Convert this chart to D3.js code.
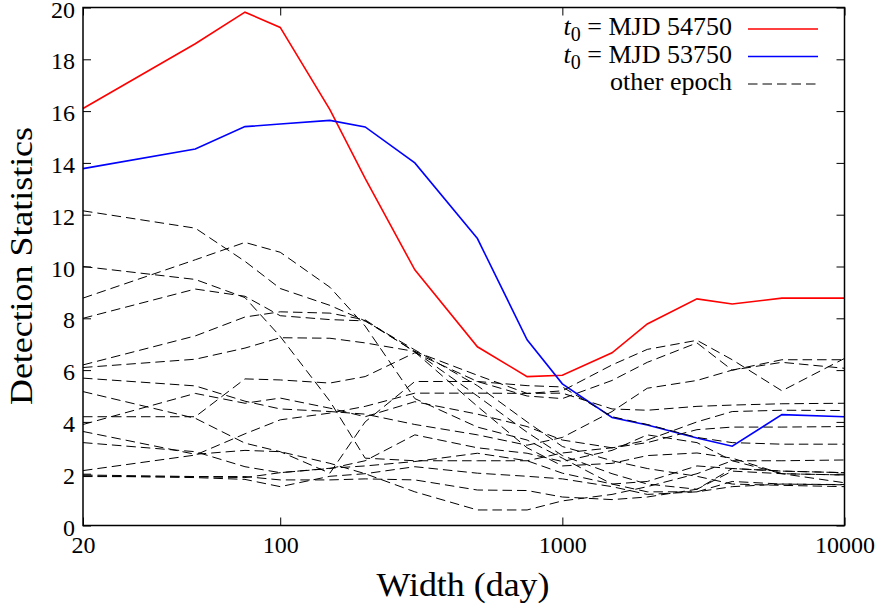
<!DOCTYPE html>
<html>
<head>
<meta charset="utf-8">
<script src="https://cdn.jsdelivr.net/npm/d3@7"></script>
<style>
  body { margin: 0; background: #fff; }
  svg { display: block; font-family: "Liberation Serif", "DejaVu Serif", serif; }
</style>
</head>
<body>
<svg id="chart" width="878" height="608"></svg>
<script>
// width of the search window (day)
const widths = [20, 50, 75, 100, 150, 200, 300, 500, 750, 1000, 1500, 2000, 3000, 4000, 6000, 10000];

// t0 = MJD 54750
const redValues = [16.1, 18.6, 19.82, 19.23, 16.06, 13.4, 9.87, 6.9, 5.75, 5.8, 6.67, 7.78, 8.75, 8.55, 8.78, 8.78];
// t0 = MJD 53750
const blueValues = [13.78, 14.54, 15.4, 15.5, 15.64, 15.39, 14.0, 11.08, 7.17, 5.47, 4.17, 3.88, 3.38, 3.06, 4.28, 4.2];

// other epochs, one row per epoch
const otherEpochs = [
  [12.15, 11.48, 10.2, 9.15, 8.5, 7.9, 6.78, 5.4, 4.0, 3.05, 2.5, 2.2, 1.9, 1.6, 1.55, 1.5],
  [8.78, 10.26, 10.93, 10.55, 9.2, 7.7, 4.9, 3.8, 3.3, 2.6, 1.6, 1.3, 1.3, 1.7, 1.6, 1.58],
  [10.0, 9.5, 8.8, 7.3, 4.8, 2.6, 2.5, 2.5, 2.5, 2.8, 3.0, 3.2, 3.7, 3.8, 3.8, 3.82],
  [8.0, 9.13, 8.85, 8.1, 7.95, 7.9, 6.72, 5.0, 3.6, 2.7, 2.0, 1.6, 1.4, 2.1, 2.0, 1.95],
  [6.2, 7.32, 8.05, 8.25, 8.2, 7.94, 6.7, 4.6, 3.0, 2.3, 2.4, 2.7, 2.8, 2.6, 2.0, 1.65],
  [6.1, 6.42, 6.85, 7.25, 7.23, 7.05, 6.72, 5.8, 5.1, 5.2, 6.2, 6.8, 7.15, 6.4, 5.2, 6.45],
  [5.69, 5.39, 4.8, 4.5, 4.4, 4.3, 3.9, 3.5, 3.1, 3.4, 4.4, 5.3, 5.6, 6.0, 6.3, 6.07],
  [3.63, 2.75, 2.9, 2.85, 2.4, 2.0, 1.3, 0.6, 0.6, 0.95, 1.2, 1.5, 2.0, 2.5, 2.5, 2.53],
  [4.2, 4.2, 5.66, 5.62, 5.5, 5.75, 6.67, 5.56, 5.0, 4.9, 5.6, 6.3, 7.05, 6.0, 6.4, 6.4],
  [3.9, 5.1, 4.72, 4.92, 4.53, 4.2, 4.78, 4.3, 3.82, 3.3, 3.0, 3.3, 4.0, 4.4, 4.45, 4.44],
  [2.12, 2.72, 3.54, 4.08, 4.34, 4.6, 5.11, 5.11, 5.1, 5.11, 4.5, 4.45, 4.6, 4.65, 4.7, 4.72],
  [5.17, 4.14, 3.18, 2.85, 2.02, 4.0, 5.56, 5.56, 5.4, 5.35, 4.2, 3.9, 3.4, 3.2, 3.14, 3.14],
  [3.2, 2.85, 2.27, 2.04, 2.21, 2.3, 2.47, 2.79, 2.5, 2.02, 1.6, 1.7, 2.3, 2.2, 2.1, 2.04],
  [1.95, 1.89, 1.89, 1.76, 1.76, 1.8, 1.76, 1.37, 1.35, 1.1, 1.0, 1.1, 1.4, 2.2, 2.1, 2.04],
  [1.92, 1.85, 1.78, 1.5, 1.9, 2.0, 2.27, 2.02, 1.9, 1.8, 1.5, 1.2, 1.3, 1.5, 1.6, 1.57],
  [1.89, 1.88, 1.85, 2.04, 2.2, 2.5, 3.5, 3.0, 2.79, 2.47, 2.9, 3.5, 3.2, 2.5, 2.0, 1.95],
];

const xTicks = [20, 100, 1000, 10000];
const yTicks = [0, 2, 4, 6, 8, 10, 12, 14, 16, 18, 20];

const svg = d3.select("#chart");
const plotLeft = 83, plotRight = 844.5, plotTop = 7.5, plotBottom = 525.5;

const x = d3.scaleLog().domain([20, 10000]).range([plotLeft, plotRight]);
const y = d3.scaleLinear().domain([0, 20]).range([plotBottom, plotTop]);

const line = d3
  .line()
  .x((d, i) => x(widths[i]))
  .y((d) => y(d));

// data lines, same order as the legend
svg.append("path")
  .attr("d", line(redValues))
  .attr("fill", "none")
  .attr("stroke", "#ff0000")
  .attr("stroke-width", 1.6);

svg.append("path")
  .attr("d", line(blueValues))
  .attr("fill", "none")
  .attr("stroke", "#0000ff")
  .attr("stroke-width", 1.6);

svg.append("g")
  .selectAll("path")
  .data(otherEpochs)
  .join("path")
  .attr("d", line)
  .attr("fill", "none")
  .attr("stroke", "#000")
  .attr("stroke-width", 1)
  .attr("stroke-dasharray", "9.5,5");

// axes, ticks pointing inward and mirrored
function styleAxis(g) {
  g.select(".domain").remove();
  g.selectAll(".tick line").attr("stroke", "#000").attr("stroke-width", 1);
  g.selectAll("text")
    .attr("font-family", "Liberation Serif, serif")
    .attr("font-size", 24)
    .attr("fill", "#000");
}

svg.append("g")
  .attr("transform", `translate(0,${plotBottom})`)
  .call(d3.axisBottom(x).tickValues(xTicks).tickFormat(d3.format("d")).tickSize(-8).tickPadding(10))
  .call(styleAxis);

svg.append("g")
  .attr("transform", `translate(0,${plotTop})`)
  .call(d3.axisTop(x).tickValues(xTicks).tickFormat("").tickSize(-8))
  .call(styleAxis);

svg.append("g")
  .attr("transform", `translate(${plotLeft},0)`)
  .call(d3.axisLeft(y).tickValues(yTicks).tickSize(-8).tickPadding(8))
  .call(styleAxis)
  .call((g) => g.selectAll("text").attr("dy", "0.4em"));

svg.append("g")
  .attr("transform", `translate(${plotRight},0)`)
  .call(d3.axisRight(y).tickValues(yTicks).tickFormat("").tickSize(-8))
  .call(styleAxis);

svg.append("rect")
  .attr("x", plotLeft)
  .attr("y", plotTop)
  .attr("width", plotRight - plotLeft)
  .attr("height", plotBottom - plotTop)
  .attr("fill", "none")
  .attr("stroke", "#000")
  .attr("stroke-width", 1.5);

// axis titles
svg.append("text")
  .attr("x", 463)
  .attr("y", 596)
  .attr("text-anchor", "middle")
  .attr("font-size", 33)
  .attr("textLength", 173)
  .attr("lengthAdjust", "spacingAndGlyphs")
  .text("Width (day)");

svg.append("text")
  .attr("transform", "translate(32,266) rotate(-90)")
  .attr("text-anchor", "middle")
  .attr("font-size", 31)
  .attr("textLength", 278)
  .attr("lengthAdjust", "spacingAndGlyphs")
  .text("Detection Statistics");

// legend
const legendItems = [
  { label: "= MJD 54750", sub: true, color: "#ff0000", dash: null, width: 1.6 },
  { label: "= MJD 53750", sub: true, color: "#0000ff", dash: null, width: 1.6 },
  { label: "other epoch", sub: false, color: "#000", dash: "9.5,5", width: 1 },
];

const legend = svg.append("g");
legendItems.forEach(function (item, i) {
  const by = 35 + i * 27.5;
  const t = legend.append("text")
    .attr("x", 732)
    .attr("y", by)
    .attr("text-anchor", "end")
    .attr("font-size", 26);
  if (item.sub) {
    t.append("tspan").attr("font-style", "italic").text("t");
    t.append("tspan").attr("dy", 6).attr("font-size", 20).text("0");
    t.append("tspan").attr("dy", -6).text(" " + item.label);
  } else {
    t.text(item.label);
  }
  legend.append("line")
    .attr("x1", 748)
    .attr("x2", 818)
    .attr("y1", by - 6)
    .attr("y2", by - 6)
    .attr("stroke", item.color)
    .attr("stroke-width", item.width)
    .attr("stroke-dasharray", item.dash);
});
</script>
</body>
</html>
